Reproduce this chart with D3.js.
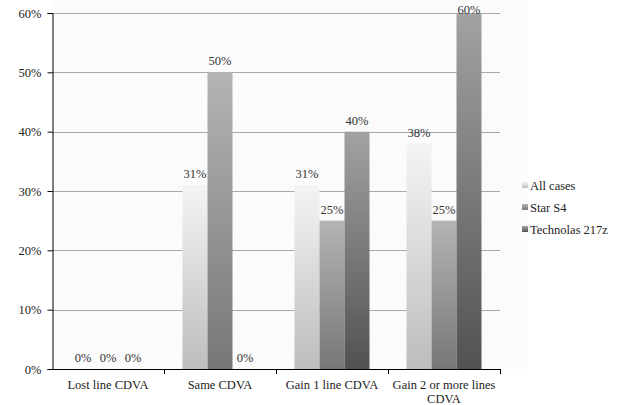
<!DOCTYPE html>
<html>
<head>
<meta charset="utf-8">
<script src="https://cdn.jsdelivr.net/npm/d3@7"></script>
<style>
  html, body { margin: 0; padding: 0; background: #fff; }
</style>
</head>
<body>
<svg id="chart" width="621" height="405"></svg>
<script>
// Outcome categories and series values (percent of eyes)
const categories = ["Lost line CDVA", "Same CDVA", "Gain 1 line CDVA", "Gain 2 or more lines CDVA"];
const seriesNames = ["All cases", "Star S4", "Technolas 217z"];
const allCases = [0, 31, 31, 38];
const starS4 = [0, 50, 25, 25];
const technolas = [0, 0, 40, 60];
const yTicks = [0, 10, 20, 30, 40, 50, 60];

const seriesValues = [allCases, starS4, technolas];
const gradStops = [
  ["#f4f4f4", "#bdbdbd"],
  ["#b4b4b4", "#777777"],
  ["#a2a2a2", "#525252"]
];
const FONT = "'Liberation Serif', 'Times New Roman', serif";

const svg = d3.select("#chart").attr("font-family", FONT);
const margin = { left: 52, right: 121, top: 13, bottom: 36 };
const W = 621, H = 405;
const plotRight = W - margin.right;
const plotBottom = H - margin.bottom;

// Gradients for bar fills
const defs = svg.append("defs");
gradStops.forEach((s, i) => {
  const g = defs.append("linearGradient").attr("id", "grad" + i)
    .attr("x1", 0).attr("y1", 0).attr("x2", 0).attr("y2", 1);
  g.append("stop").attr("offset", "0%").attr("stop-color", s[0]);
  g.append("stop").attr("offset", "100%").attr("stop-color", s[1]);
});

const x0 = d3.scaleBand().domain(categories).range([margin.left, plotRight]).paddingInner(0).paddingOuter(0);
const x1 = d3.scaleBand().domain(seriesNames).range([0, x0.bandwidth()]).paddingInner(0).paddingOuter(0.74);
const y = d3.scaleLinear().domain([0, 60]).range([plotBottom, margin.top]);

// Faint plot background
svg.append("rect").attr("x", margin.left).attr("y", 0)
  .attr("width", 527 - margin.left).attr("height", plotBottom)
  .attr("fill", "#fbfbfb");

// Horizontal gridlines
svg.append("g").selectAll("line").data(yTicks.filter(d => d > 0)).join("line")
  .attr("x1", margin.left).attr("x2", plotRight)
  .attr("y1", d => Math.round(y(d)) + 0.5).attr("y2", d => Math.round(y(d)) + 0.5)
  .attr("stroke", "#a8a8a8").attr("stroke-width", 1);

// Bars
const groups = svg.append("g").selectAll("g").data(categories).join("g")
  .attr("transform", d => `translate(${x0(d)},0)`);

groups.each(function(cat, ci) {
  const g = d3.select(this);
  seriesNames.forEach((s, si) => {
    const v = seriesValues[si][ci];
    if (v > 0) {
      g.append("rect")
        .attr("x", x1(s)).attr("y", y(v))
        .attr("width", x1.bandwidth()).attr("height", y(0) - y(v))
        .attr("fill", `url(#grad${si})`);
    }
  });
  seriesNames.forEach((s, si) => {
    const v = seriesValues[si][ci];
    g.append("text")
      .attr("x", x1(s) + x1.bandwidth() / 2)
      .attr("y", Math.max(y(v) - 7, 14))
      .attr("text-anchor", "middle")
      .attr("font-family", FONT)
      .attr("font-size", 12.5)
      .attr("fill", "#333")
      .text(v + "%");
  });
});

// Y axis
const yAxis = d3.axisLeft(y).tickValues(yTicks).tickSize(5).tickPadding(6).tickFormat(d => d + "%");
const yg = svg.append("g").attr("transform", `translate(${margin.left + 0.5},0)`).call(yAxis)
  .attr("font-family", FONT);
yg.select(".domain").attr("stroke", "#000");
yg.selectAll(".tick line").attr("stroke", "#000");
yg.selectAll(".tick text").attr("font-size", 12.5).attr("font-family", FONT).attr("fill", "#222");

// X axis line and boundary ticks
svg.append("line").attr("x1", margin.left).attr("x2", plotRight)
  .attr("y1", plotBottom + 0.5).attr("y2", plotBottom + 0.5).attr("stroke", "#000");
const bounds = categories.map(c => x0(c) + x0.bandwidth());
svg.append("g").selectAll("line").data(bounds).join("line")
  .attr("x1", d => Math.round(d) + 0.5).attr("x2", d => Math.round(d) + 0.5)
  .attr("y1", plotBottom).attr("y2", plotBottom + 5).attr("stroke", "#000");

// Category labels (last one wraps onto two lines)
const catLines = { "Gain 2 or more lines CDVA": ["Gain 2 or more lines", "CDVA"] };
svg.append("g").selectAll("text").data(categories).join("text")
  .attr("x", d => x0(d) + x0.bandwidth() / 2)
  .attr("y", plotBottom + 20)
  .attr("text-anchor", "middle")
  .attr("font-family", FONT)
  .attr("font-size", 12.5)
  .attr("fill", "#222")
  .each(function(d) {
    const lines = catLines[d] || [d];
    const t = d3.select(this);
    lines.forEach((l, i) => {
      t.append("tspan").attr("x", x0(d) + x0.bandwidth() / 2).attr("dy", i === 0 ? 0 : 13.5).text(l);
    });
  });

// Legend
const legend = svg.append("g").attr("transform", "translate(522,185)");
seriesNames.forEach((s, i) => {
  const row = legend.append("g").attr("transform", `translate(0,${i * 22})`);
  row.append("rect").attr("x", 0).attr("y", -3).attr("width", 6).attr("height", 6)
    .attr("fill", `url(#grad${i})`);
  row.append("text").attr("x", 8).attr("y", 4.5)
    .attr("font-family", FONT).attr("font-size", 12.5).attr("fill", "#222").text(s);
});
</script>
</body>
</html>
